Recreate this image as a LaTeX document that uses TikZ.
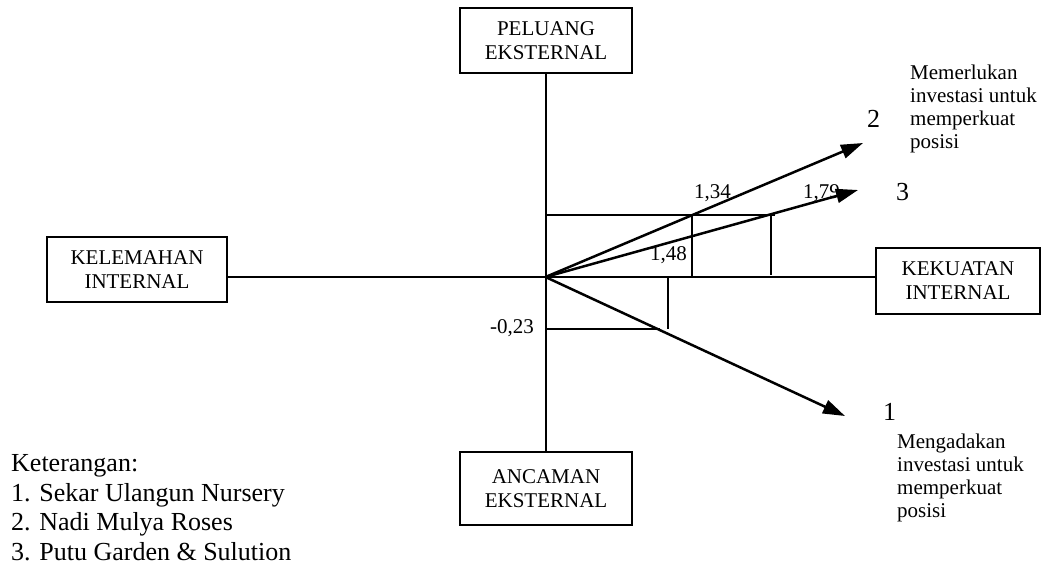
\documentclass[tikz,border=0pt]{standalone}
\usepackage{fontspec}
\setmainfont{Liberation Serif}
\usetikzlibrary{arrows.meta}
\begin{document}
\begin{tikzpicture}[x=1pt,y=-1pt,
  boxnode/.style={draw,line width=2pt,align=center,inner sep=0pt,font=\fontsize{21}{24}\selectfont},
  axisline/.style={line width=1.5pt},
  vec/.style={line width=2.5pt,-{Triangle[length=22pt,width=14pt]}},
  guide/.style={line width=1.5pt},
  lbl/.style={inner sep=0pt,font=\fontsize{21}{23}\selectfont},
  bigtxt/.style={inner sep=0pt,font=\fontsize{26}{29.5}\selectfont},
]
\useasboundingbox (0,0) rectangle (1042,566);
% centre
\coordinate (O) at (545.5,277);
% boxes
\node[boxnode,minimum width=172pt,minimum height=65pt] (pel) at (546,40.5) {PELUANG\\EKSTERNAL};
\node[boxnode,minimum width=172pt,minimum height=73pt] (anc) at (546,488.5) {ANCAMAN\\EKSTERNAL};
\node[boxnode,minimum width=180pt,minimum height=65pt] (kel) at (137,269.5) {KELEMAHAN\\INTERNAL};
\node[boxnode,minimum width=164pt,minimum height=66pt] (kek) at (958,281) {KEKUATAN\\INTERNAL};
% axes
\draw[axisline] (pel.south) -- (anc.north);
\draw[axisline] (kel.east |- O) -- (kek.west |- O);
% guide lines
\coordinate (g1) at (546,215);
\coordinate (g2) at (775,215);
\coordinate (v1t) at (692,215);
\coordinate (v1b) at (692,277);
\coordinate (v2t) at (771,213);
\coordinate (v2b) at (771,275);
\coordinate (g3) at (546,329);
\coordinate (g4) at (660,329);
\coordinate (v3t) at (668,277);
\coordinate (v3b) at (668,329);
\draw[guide] (g1) -- (g2);
\draw[guide] (v1t) -- (v1b);
\draw[guide] (v2t) -- (v2b);
\draw[guide] (g3) -- (g4);
\draw[guide] (v3t) -- (v3b);
% vectors
\coordinate (t1) at (845,416);
\coordinate (t2) at (863,143);
\coordinate (t3) at (858,190);
\draw[vec] (O) -- (t2);
\draw[vec] (O) -- (t3);
\draw[vec] (O) -- (t1);
% value labels
\node[lbl,anchor=base west] (l134) at (694,198) {1,34};
\node[lbl,anchor=base west] (l179) at (803,198) {1,79};
\node[lbl,anchor=base west] (l148) at (650,260) {1,48};
\node[lbl,anchor=base east] (l023) at (534,333) {-0,23};
% numbers
\node[bigtxt,anchor=base west] (n2) at (867,127) {2};
\node[bigtxt,anchor=base west] (n3) at (896,200) {3};
\node[bigtxt,anchor=base west] (n1) at (883,420) {1};
% descriptions
\node[lbl,align=left,anchor=north west] (d2) at (910,64.7) {Memerlukan\\investasi untuk\\memperkuat\\posisi};
\node[lbl,align=left,anchor=north west] (d1) at (897,433.7) {Mengadakan\\investasi untuk\\memperkuat\\posisi};
% legend
\node[bigtxt,align=left,anchor=north west] (leg) at (11,454.5) {Keterangan:\\1. Sekar Ulangun Nursery\\2. Nadi Mulya Roses\\3. Putu Garden \& Sulution};
\end{tikzpicture}
\end{document}
